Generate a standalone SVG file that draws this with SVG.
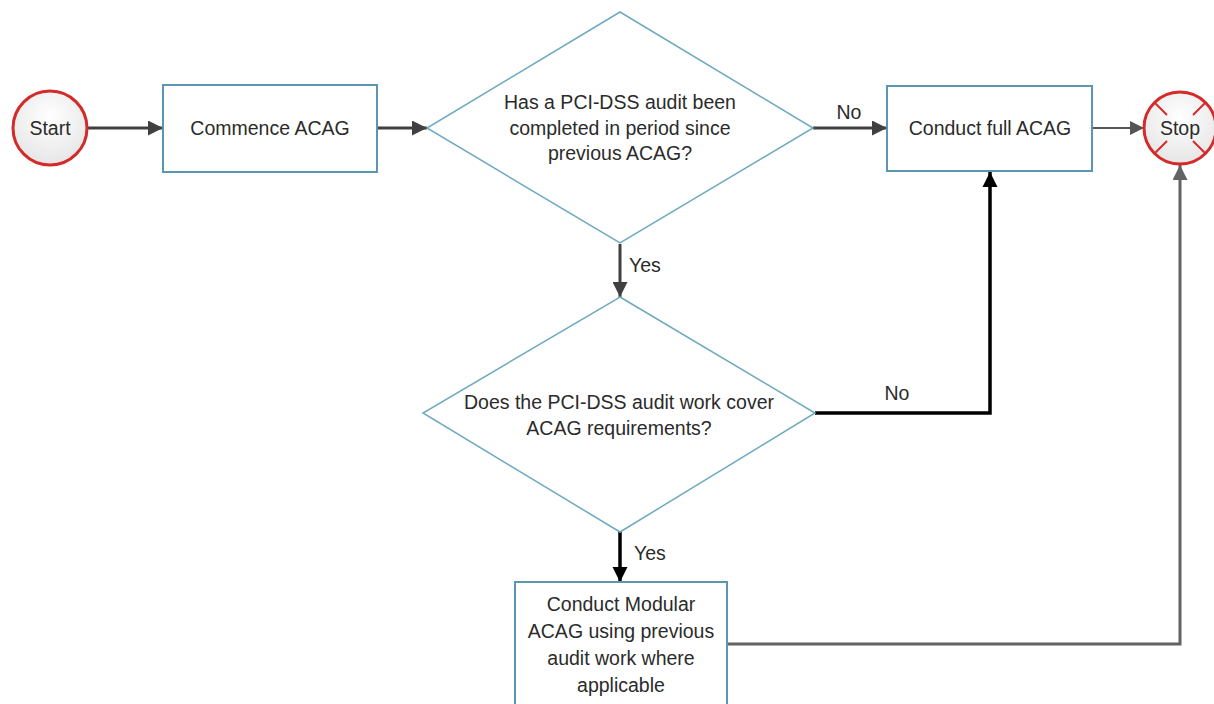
<svg xmlns="http://www.w3.org/2000/svg" width="1214" height="704" viewBox="0 0 1214 704">
  <defs>
    <style>
      .lbl { font-family: "Liberation Sans", Arial, sans-serif; font-size: 19.5px; fill: #2b2b2b; text-anchor: middle; }
      .lblL { font-family: "Liberation Sans", Arial, sans-serif; font-size: 19.5px; fill: #2b2b2b; text-anchor: start; }
      .box { fill: #ffffff; stroke: #5b96b3; stroke-width: 2; }
      .dia { fill: #ffffff; stroke: #6fa9bf; stroke-width: 1.5; }
      .term { fill: url(#termFill); stroke: #d42a2a; stroke-width: 3; }
      .tick { stroke: #d42a2a; stroke-width: 2; }
      .c-dark { fill: none; stroke: #404040; stroke-width: 3; }
      .c-thin { fill: none; stroke: #555555; stroke-width: 2; }
      .c-black { fill: none; stroke: #000000; stroke-width: 3.5; }
      .c-gray { fill: none; stroke: #636363; stroke-width: 3; }
    </style>
    <radialGradient id="termFill" cx="0.5" cy="0.35" r="0.7">
      <stop offset="0" stop-color="#ffffff"/>
      <stop offset="1" stop-color="#e4e4e4"/>
    </radialGradient>
    <marker id="arrDark" viewBox="0 0 10 10" refX="10" refY="5" markerWidth="5" markerHeight="5" markerUnits="strokeWidth" orient="auto">
      <path d="M0,0 L10,5 L0,10 z" fill="#404040"/>
    </marker>
    <marker id="arrThin" viewBox="0 0 10 10" refX="10" refY="5" markerWidth="7" markerHeight="7" markerUnits="strokeWidth" orient="auto">
      <path d="M0,0 L10,5 L0,10 z" fill="#555555"/>
    </marker>
    <marker id="arrBlack" viewBox="0 0 10 10" refX="10" refY="5" markerWidth="4.3" markerHeight="4.3" markerUnits="strokeWidth" orient="auto">
      <path d="M0,0 L10,5 L0,10 z" fill="#000000"/>
    </marker>
    <marker id="arrGray" viewBox="0 0 10 10" refX="10" refY="5" markerWidth="5" markerHeight="5" markerUnits="strokeWidth" orient="auto">
      <path d="M0,0 L10,5 L0,10 z" fill="#636363"/>
    </marker>
  </defs>

  <rect x="0" y="0" width="1214" height="704" fill="#ffffff"/>

  <g id="connectors">
    <line class="c-dark" x1="88" y1="128" x2="163" y2="128" marker-end="url(#arrDark)"/>
    <line class="c-dark" x1="377" y1="128" x2="427" y2="128" marker-end="url(#arrDark)"/>
    <line class="c-dark" x1="813" y1="128" x2="887" y2="128" marker-end="url(#arrDark)"/>
    <line class="c-thin" x1="1092" y1="128" x2="1144" y2="128" marker-end="url(#arrThin)"/>
    <line class="c-dark" x1="620" y1="244" x2="620" y2="297" marker-end="url(#arrDark)"/>
    <polyline class="c-black" points="815,413 990,413 990,172" marker-end="url(#arrBlack)"/>
    <line class="c-black" x1="620" y1="532" x2="620" y2="582" marker-end="url(#arrBlack)"/>
    <polyline class="c-gray" points="727,644 1180,644 1180,165" marker-end="url(#arrGray)"/>
    <text class="lbl" x="849" y="119">No</text>
    <text class="lblL" x="629" y="272">Yes</text>
    <text class="lbl" x="897" y="400">No</text>
    <text class="lblL" x="634" y="560">Yes</text>
  </g>

  <g id="start">
    <circle class="term" cx="50" cy="128" r="37"/>
    <text class="lbl" x="50" y="135">Start</text>
  </g>

  <g id="commence">
    <rect class="box" x="163" y="85" width="214" height="87"/>
    <text class="lbl" x="270" y="135">Commence ACAG</text>
  </g>

  <g id="decision1">
    <polygon class="dia" points="620,12 813,128 620,243 427,128"/>
    <text class="lbl" x="620" y="109">Has a PCI-DSS audit been</text>
    <text class="lbl" x="620" y="135">completed in period since</text>
    <text class="lbl" x="620" y="160">previous ACAG?</text>
  </g>

  <g id="fullacag">
    <rect class="box" x="887" y="86" width="205" height="85"/>
    <text class="lbl" x="990" y="135">Conduct full ACAG</text>
  </g>

  <g id="stop">
    <circle class="term" cx="1180" cy="128" r="36"/>
    <line class="tick" x1="1155" y1="103" x2="1167" y2="115"/>
    <line class="tick" x1="1205" y1="103" x2="1193" y2="115"/>
    <line class="tick" x1="1155" y1="153" x2="1167" y2="141"/>
    <line class="tick" x1="1205" y1="153" x2="1193" y2="141"/>
    <text class="lbl" x="1180" y="135">Stop</text>
  </g>

  <g id="decision2">
    <polygon class="dia" points="620,297 815,413 620,532 423,413"/>
    <text class="lbl" x="619" y="409">Does the PCI-DSS audit work cover</text>
    <text class="lbl" x="619" y="435">ACAG requirements?</text>
  </g>

  <g id="modular">
    <rect class="box" x="515" y="582" width="212" height="130"/>
    <text class="lbl" x="621" y="611">Conduct Modular</text>
    <text class="lbl" x="621" y="638">ACAG using previous</text>
    <text class="lbl" x="621" y="665">audit work where</text>
    <text class="lbl" x="621" y="692">applicable</text>
  </g>
</svg>
